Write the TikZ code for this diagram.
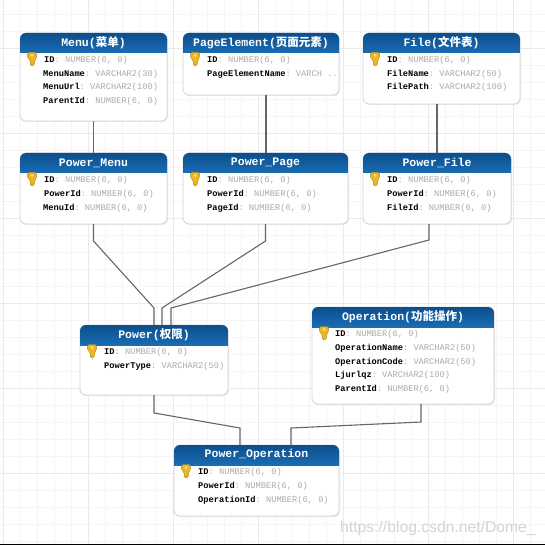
\documentclass[tikz,border=0pt]{standalone}
\usepackage{fontspec}
\setmainfont{Liberation Sans}
\setmonofont{Liberation Mono}
\newfontfamily\cjkf{Noto Sans CJK SC}
\definecolor{hdrtop}{HTML}{0B4F8C}
\definecolor{hdrbot}{HTML}{1A6CB4}
\definecolor{boxedge}{HTML}{D2D2D8}
\definecolor{typegray}{HTML}{ABABAB}
\definecolor{linkc}{HTML}{666666}
\definecolor{gridmin}{HTML}{F5F5F7}
\definecolor{gridmaj}{HTML}{EAEAEE}
\definecolor{keyc}{HTML}{EDB625}
\tikzset{
  x=1pt,y=-1pt,
  link/.style={draw=linkc,line width=1.1pt},
  ttl/.style={font=\ttfamily\bfseries\fontsize{11.5}{12}\selectfont,text=white,inner sep=0pt},
  fieldn/.style={anchor=base west,inner sep=0pt,font=\ttfamily\bfseries\fontsize{8.7}{10}\selectfont,text=black},
  anchorbox/.style={inner sep=0pt,outer sep=0pt,rectangle},
}
% #1 name, #2 x0, #3 y0, #4 x1, #5 y1, #6 title
\newcommand{\tbl}[6]{%
  \fill[black!8,rounded corners=6pt] (#2+1,#3+1) rectangle (#4+1,#5+1);
  \draw[boxedge,fill=white,line width=.8pt,rounded corners=6pt] (#2,#3) rectangle (#4,#5);
  \begin{scope}
    \clip[rounded corners=6pt] (#2,#3) rectangle (#4,#5);
    \shade[top color=hdrtop,bottom color=hdrbot] (#2,#3) rectangle (#4,#3+20);
  \end{scope}
  \node[anchorbox,minimum width={(#4-#2)*1pt},minimum height={(#5-#3)*1pt}] (#1) at ({(#2+#4)/2},{(#3+#5)/2}) {};
  \node[ttl] (#1-t) at ({(#2+#4)/2},#3+10) {#6};
  \begin{scope}[shift={(#2+12,#3+19.5)}]
    \fill[keyc,draw=keyc!75!black,line width=.4pt,rounded corners=1.6pt]
      (-4.6,0) -- (4.6,0) -- (4.6,5.5) -- (2.3,8) -- (2.3,13.5) -- (-1.6,13.5) -- (-1.6,8) -- (-4.6,5.5) -- cycle;
    \fill[white!55!keyc] (0,3) circle (1.5);
  \end{scope}
}
% #1 x, #2 y baseline, #3 name, #4 type
\newcommand{\fld}[4]{%
  \node[fieldn] at (#1,#2) {#3\textcolor{typegray}{\mdseries: #4}};
}
\begin{document}
\begin{tikzpicture}
\useasboundingbox (0,0) rectangle (545,545);
\fill[white] (0,0) rectangle (545,545);
\foreach \i in {0,...,32} {
  \draw[gridmin,line width=.6pt] (3+\i*17,0) -- (3+\i*17,544);
  \draw[gridmin,line width=.6pt] (0,14+\i*17) -- (545,14+\i*17);
}
\foreach \i in {0,...,6} {
  \draw[gridmaj,line width=.8pt] (3+\i*85,0) -- (3+\i*85,544);
  \draw[gridmaj,line width=.8pt] (0,48+\i*85) -- (545,48+\i*85);
}
\fill[black] (0,544) rectangle (545,545);

\tbl{menu}{20}{33}{167}{121}{Menu({\cjkf 菜单})}
\fld{44}{62.5}{ID}{NUMBER(6, 0)}
\fld{43}{76.5}{MenuName}{VARCHAR2(30)}
\fld{43}{90}{MenuUrl}{VARCHAR2(100)}
\fld{43}{103.5}{ParentId}{NUMBER(6, 0)}

\tbl{pe}{183}{33}{339}{95}{PageElement({\cjkf 页面元素})}
\fld{207}{62.5}{ID}{NUMBER(6, 0)}
\fld{207}{76.5}{PageElementName}{VARCH ..}

\tbl{file}{363}{33}{520}{104}{File({\cjkf 文件表})}
\fld{387}{62.5}{ID}{NUMBER(6, 0)}
\fld{387}{76.5}{FileName}{VARCHAR2(50)}
\fld{387}{90}{FilePath}{VARCHAR2(100)}

\tbl{pm}{20}{153}{167}{224}{Power\_Menu}
\fld{44}{182.5}{ID}{NUMBER(6, 0)}
\fld{44}{196.5}{PowerId}{NUMBER(6, 0)}
\fld{43}{210}{MenuId}{NUMBER(6, 0)}

\tbl{pp}{183}{153}{348}{224}{Power\_Page}
\fld{207}{182.5}{ID}{NUMBER(6, 0)}
\fld{207}{196.5}{PowerId}{NUMBER(6, 0)}
\fld{207}{210}{PageId}{NUMBER(6, 0)}

\tbl{pf}{363}{153}{511}{224}{Power\_File}
\fld{387}{182.5}{ID}{NUMBER(6, 0)}
\fld{387}{196.5}{PowerId}{NUMBER(6, 0)}
\fld{387}{210}{FileId}{NUMBER(6, 0)}

\tbl{pw}{80}{325}{228}{395}{Power({\cjkf 权限})}
\fld{104}{354.5}{ID}{NUMBER(6, 0)}
\fld{104}{368.5}{PowerType}{VARCHAR2(50)}

\tbl{op}{312}{307}{494}{404}{Operation({\cjkf 功能操作})}
\fld{335}{336.5}{ID}{NUMBER(6, 0)}
\fld{335}{350.5}{OperationName}{VARCHAR2(50)}
\fld{335}{364}{OperationCode}{VARCHAR2(50)}
\fld{335}{377.5}{Ljurlqz}{VARCHAR2(100)}
\fld{335}{391}{ParentId}{NUMBER(6, 0)}

\tbl{po}{174}{445}{339}{516}{Power\_Operation}
\fld{198}{474.5}{ID}{NUMBER(6, 0)}
\fld{198}{488.5}{PowerId}{NUMBER(6, 0)}
\fld{198}{502}{OperationId}{NUMBER(6, 0)}

\draw[link] (menu.south) -- (pm.north);
\draw[link] ([xshift=5pt]pe.south) -- ([xshift=0.5pt]pp.north);
\draw[link] ([xshift=-4.5pt]file.south) -- ([xshift=0pt]pf.north);
\draw[link] (pm.south) -- ++(0,17) -- (154,308) -- ([xshift=0pt]pw.north);
\draw[link] (pp.south) -- ++(0,17) -- (162,308) -- ([xshift=8pt]pw.north);
\draw[link] ([xshift=-8pt]pf.south) -- ++(0,16) -- (171,308) -- ([xshift=17pt]pw.north);
\draw[link] (pw.south) -- ++(0,18) -- (240,428) -- ([xshift=-16.5pt]po.north);
\draw[link] ([xshift=18pt]op.south) -- ++(0,18) -- (291,428) -- ([xshift=34.5pt]po.north);

\node[inner sep=0pt,anchor=base west,font=\fontsize{15.7}{16}\selectfont,text=black!17] (wm) at (340,532) {https://blog.csdn.net/Dome\_};
\end{tikzpicture}
\end{document}
